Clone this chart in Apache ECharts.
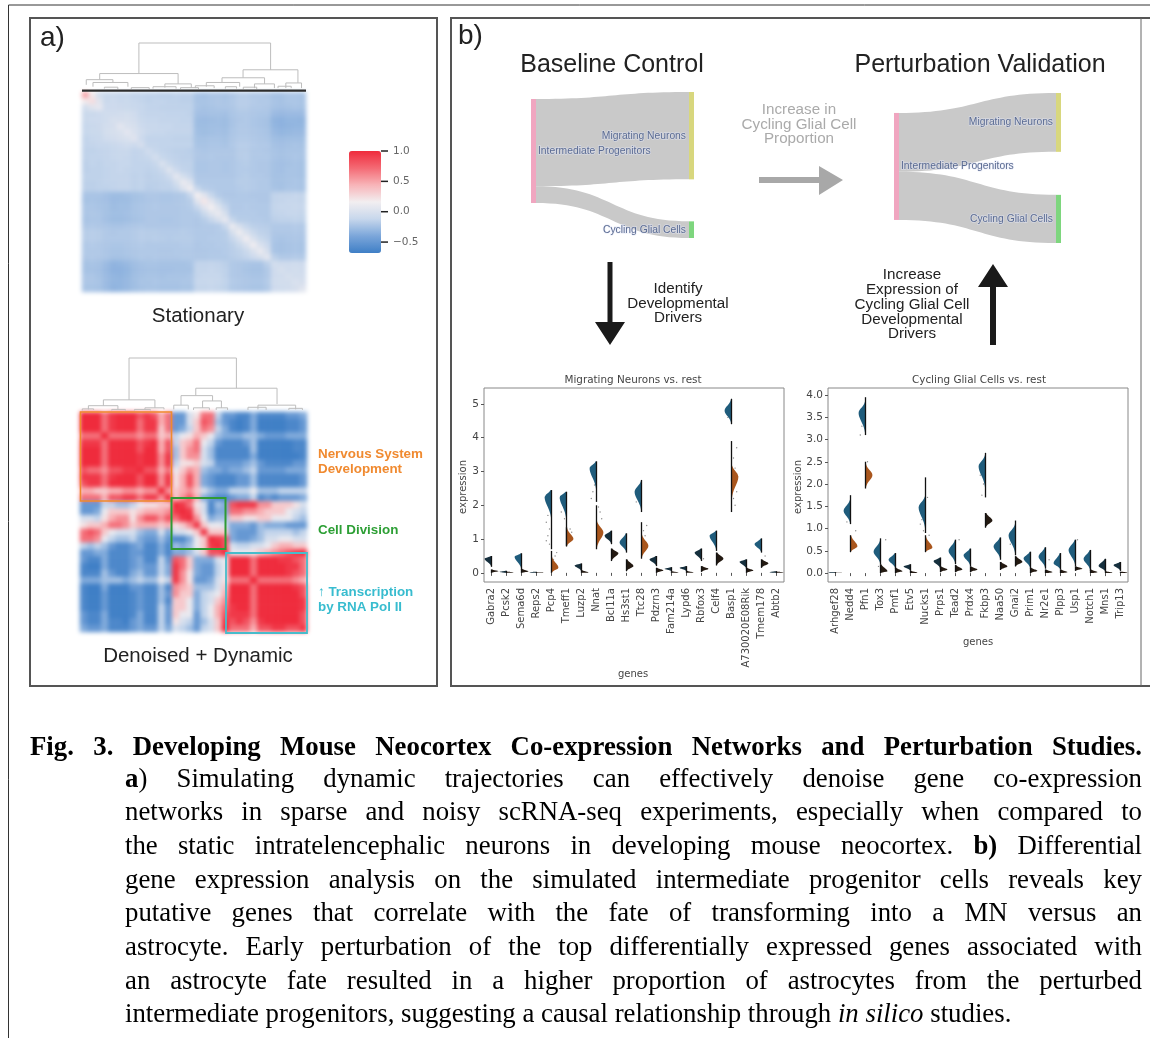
<!DOCTYPE html>
<html>
<head>
<meta charset="utf-8">
<script src="https://cdn.jsdelivr.net/npm/echarts@6/dist/echarts.min.js"></script>
<style>
html,body{margin:0;padding:0;background:#fff;overflow:hidden}
#heat{position:absolute;left:0;top:0;width:1150px;height:1038px;filter:blur(2.2px)}
#chart{position:absolute;left:0;top:0;width:1150px;height:1038px;filter:blur(0.6px)}
.cap{position:absolute;white-space:nowrap;font-family:"Liberation Serif",serif;color:#000;text-align:justify;text-align-last:justify;line-height:34px;height:34px}
.body{left:125px;width:1017px;font-size:26.8px}
.head{left:30px;width:1112px;font-size:26.8px;font-weight:bold}
</style>
</head>
<body>
<div id="heat"></div>
<div id="chart"></div>
<div class="cap head" style="top:729px">Fig. 3. Developing Mouse Neocortex Co-expression Networks and Perturbation Studies.</div>
<div class="cap body" style="top:761px"><b>a</b>) Simulating dynamic trajectories can effectively denoise gene co-expression</div>
<div class="cap body" style="top:794px">networks in sparse and noisy scRNA-seq experiments, especially when compared to</div>
<div class="cap body" style="top:828px">the static intratelencephalic neurons in developing mouse neocortex. <b>b)</b> Differential</div>
<div class="cap body" style="top:862px">gene expression analysis on the simulated intermediate progenitor cells reveals key</div>
<div class="cap body" style="top:895px">putative genes that correlate with the fate of transforming into a MN versus an</div>
<div class="cap body" style="top:929px">astrocyte. Early perturbation of the top differentially expressed genes associated with</div>
<div class="cap body" style="top:963px">an astrocyte fate resulted in a higher proportion of astrocytes from the perturbed</div>
<div class="cap body" style="top:996px;text-align-last:left;width:auto">intermediate progenitors, suggesting a causal relationship through <i>in silico</i> studies.</div>
<script>
// ---------- Stationary co-expression (upper triangle, hundredths) ----------
const statUpper = [
[50,18,-4,-10,-10,-12,-12,-14,-14,-15,-15,-16,-16,-15,-16,-16,-23,-24,-22,-22,-23,-21,-18,-18,-20,-20,-21,-24,-24,-22,-22,-23],
[24,4,-10,-8,-11,-10,-12,-13,-15,-14,-14,-15,-15,-16,-16,-23,-23,-22,-21,-22,-20,-17,-17,-19,-20,-20,-23,-24,-22,-22,-23],
[8,-8,-8,-9,-10,-11,-12,-14,-14,-15,-15,-15,-15,-15,-23,-24,-23,-22,-22,-21,-18,-18,-20,-20,-21,-24,-25,-24,-23,-24],
[-6,-6,-5,-4,-6,-12,-13,-13,-13,-14,-14,-14,-15,-25,-25,-24,-24,-25,-22,-20,-20,-21,-22,-22,-28,-29,-28,-28,-28],
[-2,-3,-2,-5,-10,-12,-12,-13,-13,-13,-14,-14,-27,-28,-27,-26,-27,-23,-21,-20,-22,-23,-24,-32,-33,-31,-31,-32],
[6,0,-2,-8,-11,-11,-12,-12,-13,-13,-13,-27,-27,-26,-26,-27,-23,-20,-20,-22,-23,-24,-31,-33,-32,-31,-31],
[6,0,-6,-11,-12,-12,-13,-13,-13,-13,-26,-27,-26,-25,-26,-22,-20,-20,-21,-22,-23,-29,-31,-30,-29,-29],
[4,-8,-14,-14,-14,-14,-15,-15,-15,-24,-24,-23,-23,-24,-21,-19,-19,-20,-21,-22,-26,-27,-26,-26,-26],
[-3,-13,-13,-14,-14,-14,-14,-14,-23,-23,-22,-22,-23,-20,-17,-17,-19,-20,-20,-24,-25,-24,-23,-24],
[-6,-12,-14,-15,-16,-16,-17,-21,-22,-21,-21,-21,-21,-18,-18,-20,-20,-21,-23,-24,-23,-23,-23],
[-4,-12,-14,-15,-16,-16,-21,-21,-20,-21,-21,-21,-18,-17,-20,-20,-20,-23,-24,-23,-22,-23],
[0,-10,-14,-15,-15,-22,-22,-21,-21,-22,-21,-19,-18,-20,-21,-21,-24,-25,-24,-23,-24],
[2,-8,-14,-15,-22,-22,-21,-21,-22,-21,-19,-19,-20,-21,-21,-24,-25,-23,-23,-24],
[6,-4,-12,-21,-21,-21,-21,-21,-21,-19,-18,-20,-20,-21,-24,-24,-23,-23,-24],
[10,2,-20,-20,-20,-20,-20,-20,-18,-18,-19,-20,-20,-24,-24,-23,-22,-23],
[14,-12,-18,-19,-20,-20,-20,-19,-18,-19,-20,-20,-23,-24,-22,-22,-23],
[16,4,-12,-19,-21,-21,-20,-20,-21,-21,-21,-14,-13,-13,-12,-13],
[20,4,-10,-18,-20,-20,-20,-20,-21,-21,-14,-13,-12,-12,-13],
[16,2,-12,-20,-20,-19,-20,-20,-20,-13,-12,-12,-11,-12],
[10,-2,-19,-19,-19,-19,-20,-20,-14,-13,-12,-12,-13],
[8,-12,-18,-18,-19,-19,-20,-16,-15,-15,-14,-15],
[10,-2,-12,-16,-17,-18,-20,-20,-20,-19,-20],
[12,0,-10,-15,-16,-21,-21,-21,-20,-21],
[14,0,-10,-14,-22,-23,-22,-21,-22],
[14,0,-8,-23,-24,-23,-22,-23],
[10,-2,-23,-24,-23,-22,-23],
[6,-16,-20,-20,-19,-20],
[-4,-7,-7,-6,-7],
[-2,-6,-5,-6],
[-2,-5,-5],
[0,-3],
[4]
];
// ---------- Denoised + dynamic co-expression (tenths, three gene modules) ----------
const dynAA = [
[10,9,9,6,8,9,9,9,7,8,7,4,6],
[10,9,6,8,9,9,9,6,8,8,4,6],
[10,6,8,9,9,9,6,8,8,3,6],
[10,6,6,6,6,5,6,6,3,4],
[10,10,10,9,7,8,9,4,7],
[10,10,10,7,9,9,4,7],
[10,10,8,9,10,5,8],
[10,8,10,10,5,8],
[10,7,7,4,6],
[10,10,5,8],
[10,5,8],
[10,5],
[10]
];
const dynAB = [
[-4,-4,0,2,6,6,-1,-4],
[-4,-4,0,3,7,6,-2,-4],
[-4,-3,-1,3,6,5,-1,-3],
[-1,1,2,4,3,1,-2,-3],
[-1,3,4,6,1,-1,-4,-5],
[-2,3,5,6,0,-2,-5,-5],
[-2,3,5,5,0,-2,-5,-5],
[-1,2,2,3,0,-1,-4,-4],
[1,3,5,4,-2,-3,-3,-4],
[2,4,7,4,-3,-4,-5,-5],
[2,4,7,4,-3,-4,-5,-5],
[3,4,5,3,0,-2,-3,-3],
[3,5,7,4,-3,-4,-5,-5]
];
const dynAC = [
[-4,-5,-5,-3,-5,-5,-5,-5,-4,-4,-3],
[-5,-6,-5,-3,-6,-6,-6,-6,-5,-5,-4],
[-5,-6,-5,-3,-6,-6,-6,-6,-5,-5,-4],
[-3,-3,-2,-2,-3,-4,-4,-4,-3,-3,-3],
[-5,-5,-4,-2,-6,-6,-6,-6,-6,-5,-5],
[-5,-5,-5,-2,-6,-6,-6,-6,-6,-5,-5],
[-5,-5,-5,-3,-6,-6,-6,-6,-6,-6,-5],
[-4,-4,-3,-2,-4,-5,-5,-5,-5,-4,-4],
[-3,-3,-2,-1,-4,-4,-4,-4,-3,-3,-3],
[-5,-4,-4,-2,-5,-5,-5,-5,-5,-5,-4],
[-5,-4,-4,-2,-5,-5,-5,-5,-5,-5,-4],
[-1,-1,-1,1,-2,-2,-2,-1,-1,-1,-1],
[-4,-3,-3,-1,-5,-4,-5,-4,-4,-4,-3]
];
const dynBB = [
[9,8,6,2,0,-5,-2,-3],
[9,8,3,0,-5,-3,-3],
[9,5,1,-3,-2,-2],
[8,3,1,1,0],
[8,3,3,3],
[10,8,7],
[9,7],
[9]
];
const dynBC = [
[7,8,8,8,5,5,3,3,3,2,0],
[6,6,5,5,4,3,3,3,1,0,-1],
[3,3,2,2,3,3,1,1,1,-1,-2],
[-3,-3,-3,-4,-2,-3,-3,-3,-4,-4,-4],
[-3,-4,-4,-4,-2,-1,-1,-1,-1,-2,-1],
[-3,-4,-4,-3,-2,0,0,1,1,0,0],
[0,-1,-1,0,0,1,3,4,4,3,3],
[1,1,1,2,3,4,5,6,7,8,9]
];
const dynCC = [
[10,10,9,6,9,9,9,8,8,7,6],
[10,9,6,9,9,9,9,8,8,6],
[10,6,9,9,9,9,8,7,6],
[10,6,6,6,6,6,5,4],
[10,10,10,9,9,8,7],
[10,10,10,9,9,7],
[10,10,9,9,8],
[10,9,9,8],
[10,9,7],
[9,7],
[8]
];
// ---------- Dendrograms: [xLeft, xRight, leftLegHeight, rightLegHeight, topHeight] ----------
const dendroStationary = [
[25.4,84.2,35,43,100],[7.9,42.9,22,13,35],[71.9,96.4,26,15,43],[62.5,81.5,16,13,26],
[1.9,13.8,11,16,22],[4.9,20.5,7,7,16],[37,48.8,5,5,13],[31.7,42,3,3,7],[50.6,59,4,4,9],
[55.5,70.4,7,7,16],[77,85.9,4,4,13],[91,98,4,4,15],[87.5,93.4,4,4,8],[22,30,2,2,5],
[10,16,3,2,6],[64,69,3,3,7],[72,78,2,2,6],[44,52,2,2,5]
];
const dendroDynamic = [
[21.6,68.9,21,43,100],[10.3,33,10,6,21],[51,86.8,29,13,43],[44.5,58.4,11,19,29],
[54,62.3,6,6,19],[41.3,47.7,3,3,11],[78.4,95,3,3,11],[3.7,16.7,3,3,10],[28.6,37,3,3,6],
[50,57,2,2,6],[60,65,2,2,6],[74,82,2,2,7],[92,98,2,2,5],[1,6,1,2,4],[14,20,1,1,3],[24,31,1,1,3]
];
// ---------- Sankey flows ----------
const sankeyNodes = ['Intermediate Progenitors','Migrating Neurons','Cycling Glial Cells'];
const baselineFlows = [84,16];
const perturbedFlows = [55,45];
// ---------- Violin plots: each row is [peak, low, high] ----------
const genesMN = ['Gabra2','Pcsk2','Sema6d','Reps2','Pcp4','Tmeff1','Luzp2','Nnat','Bcl11a','Hs3st1','Ttc28','Pdzrn3','Fam214a','Lypd6','Rbfox3','Celf4','Basp1','A730020E08Rik','Tmem178','Abtb2'];
const mnGroup = [[.42,.18,.5],[.03,0,.06],[.48,.1,.58],[.01,0,.03],[2.25,.7,2.45],[2.25,.8,2.4],[.22,.05,.28],[3.1,2.1,3.3],[1.1,.85,1.25],[.9,.6,1.17],[2.4,1.8,2.75],[.4,.2,.5],[.12,.05,.17],[.15,.05,.2],[.6,.35,.72],[1.1,.65,1.25],[4.8,4.4,5.15],[.33,.12,.4],[.85,.6,1.02],[.02,0,.05]];
const mnRest = [[.05,0,.1],[.01,0,.03],[.04,0,.12],[.01,0,.02],[.15,0,.65],[1,.78,1.35],[.01,0,.08],[1.2,.7,2],[.58,.35,.72],[.2,.05,.4],[.8,.42,1.5],[.07,0,.15],[.01,0,.05],[.01,0,.06],[.12,.03,.2],[.42,.22,.6],[2.85,1.8,3.9],[.07,0,.15],[.28,.15,.4],[.01,0,.03]];
const mnDots = [[4,1.9,0],[4,1.7,0],[4,1.5,0],[4,1.3,0],[4,1.1,0],[4,.95,0],[4,.85,0],[4,.5,1],[4,.6,1],[4,.4,1],[5,2,0],[5,1.8,0],[5,1.6,0],[5,1.3,1],[5,1.2,1],[7,2.6,0],[7,2.4,0],[7,2.2,0],[7,1.95,1],[7,1.8,1],[7,1.6,1],[16,4.95,0],[16,4.6,0],[16,3.7,1],[16,3.4,1],[16,3.1,1],[16,2.4,1],[16,2.2,1],[16,2,1],[10,1.4,1],[10,1.25,1],[10,1.1,1],[10,2.1,0],[14,.42,1],[18,.5,1]];
const genesCG = ['Arhgef28','Nedd4','Pfn1','Tox3','Pmf1','Etv5','Nucks1','Prps1','Tead2','Prdx4','Fkbp3','Naa50','Gnai2','Prim1','Nr2e1','Plpp3','Usp1','Notch1','Mns1','Trip13'];
const cgGroup = [[.01,0,.02],[1.4,1.1,1.75],[3.6,3.1,3.95],[.48,.2,.78],[.3,.1,.45],[.15,.05,.2],[1.48,.9,2.15],[.27,.1,.35],[.5,.2,.75],[.4,.15,.55],[2.4,1.7,2.7],[.6,.3,.8],[.85,.4,1.18],[.33,.1,.48],[.37,.1,.58],[.22,.08,.45],[.52,.15,.75],[.32,.05,.52],[.16,.03,.32],[.18,.05,.25]];
const cgRest = [[.01,0,.01],[.6,.47,.85],[2.2,1.9,2.5],[.04,0,.2],[.04,0,.12],[.01,0,.05],[.57,.47,.85],[.08,.02,.15],[.08,.02,.18],[.08,.02,.15],[1.18,1.02,1.35],[.15,.07,.25],[.25,.15,.38],[.05,0,.12],[.02,0,.08],[.02,0,.08],[.1,.05,.15],[.02,0,.08],[.01,0,.04],[.01,0,.03]];
const cgDots = [[2,3.4,0],[2,3.3,0],[2,3.1,0],[2,2.5,1],[1,1.15,0],[1,.95,1],[6,1.7,1],[6,1.2,0],[6,1.1,0],[6,.95,0],[6,.85,1],[10,2.2,0],[10,2,0],[10,1.75,0],[3,.75,1],[3,.15,0],[8,.75,1],[12,.65,0],[16,.75,1],[14,.3,1]];
const tickColorbar = [-0.5,0,0.5,1];
const tickMN = [0,1,2,3,4,5];
const tickCG = [0,0.5,1,1.5,2,2.5,3,3.5,4];
const colorStops = ['#3f7fc6','#7ba6da','#c7d7ec','#f2eef0','#f8b4b8','#f46a74','#ef2b3c'];

function mirror(rows){
  const n=rows.length, m=[];
  for(let i=0;i<n;i++) m.push(new Array(n).fill(0));
  rows.forEach((r,i)=>r.forEach((v,k)=>{m[i][i+k]=v;m[i+k][i]=v;}));
  return m;
}
function cells(m,scale){
  const out=[];
  m.forEach((r,y)=>r.forEach((v,x)=>out.push([x,y,v/scale])));
  return out;
}
const dynUpper=[];
for(let i=0;i<13;i++) dynUpper.push([...dynAA[i],...dynAB[i],...dynAC[i]]);
for(let i=0;i<8;i++) dynUpper.push([...dynBB[i],...dynBC[i]]);
for(let i=0;i<11;i++) dynUpper.push(dynCC[i]);
const idx32=Array.from({length:32},(_,i)=>String(i));

function renderDendro(p,api){
  const x1=api.value(0),x2=api.value(1),a=api.value(2),b=api.value(3),t=api.value(4);
  return {type:'polyline',shape:{points:[api.coord([x1,a]),api.coord([x1,t]),api.coord([x2,t]),api.coord([x2,b])]},
    style:{stroke:'#bdbdbd',lineWidth:1,fill:null}};
}
function renderViolin(p,api){
  const g=api.value(0),peak=api.value(1),low=api.value(2),high=api.value(3),side=api.value(4);
  const band=api.size([1,0])[0],w=band*0.46;
  const pk=api.coord([g,peak]),a=api.coord([g,low]),b=api.coord([g,high]);
  const c=pk[0],yPk=pk[1],yLow=a[1],yHigh=b[1];
  const spanPx=yLow-yHigh;
  const sLow=Math.max(Math.min((yLow-yPk)/1.8,13),0.8),sHigh=Math.max(Math.min((yPk-yHigh)/1.5,7),0.8);
  const pts=[];
  const N=26;
  for(let i=0;i<=N;i++){
    const y=yLow+(yHigh-yLow)*i/N;
    const s=y>yPk?sLow:sHigh;
    const d=w*Math.exp(-Math.pow((y-yPk)/s,2));
    pts.push([c+(side?d:-d),y]);
  }
  const fill=side?(spanPx>16?'#a9561d':'#241a12'):(spanPx>14?'#1f5c7c':'#16303e');
  return {type:'group',children:[
    {type:'polygon',shape:{points:[[c,yLow],...pts,[c,yHigh]]},style:{fill:fill}},
    {type:'line',shape:{x1:c,y1:yLow,x2:c,y2:yHigh},style:{stroke:'#111',lineWidth:1.3}}
  ]};
}
function renderDot(p,api){
  const pos=api.coord([api.value(0),api.value(1)]);
  const dir=api.value(2)?1:-1;
  const off=dir*(2+p.dataIndex%3*1.6);
  return {type:'circle',shape:{cx:pos[0]+off,cy:pos[1],r:.7},style:{fill:'#8a8a8a'}};
}
function renderBarTick(p,api){
  const pos=api.coord([1,api.value(0)]);
  return {type:'line',shape:{x1:pos[0],y1:pos[1],x2:pos[0]+7,y2:pos[1]},style:{stroke:'#222',lineWidth:1.5}};
}
function violinRows(list,side){return list.map((r,i)=>[i,r[0],r[1],r[2],side]);}

const FONT='"Liberation Sans",Arial,sans-serif';
const txt=(s,x,y,size,fill,align,weight)=>({type:'text',z:50,style:{text:s,x:x,y:y,fill:fill||'#222',align:align||'center',verticalAlign:'middle',font:(weight||'normal')+' '+size+'px '+FONT}});
const box=(x,y,w,h,stroke,lw)=>({type:'rect',z:40,shape:{x:x,y:y,width:w,height:h},style:{fill:null,stroke:stroke,lineWidth:lw}});
const poly=(pts,fill)=>({type:'polygon',z:40,shape:{points:pts},style:{fill:fill}});

const graphicEls=[
  {type:'line',z:40,shape:{x1:8.5,y1:5,x2:1150,y2:5},style:{stroke:'#333',lineWidth:1}},
  {type:'line',z:40,shape:{x1:8.5,y1:5,x2:8.5,y2:1038},style:{stroke:'#333',lineWidth:1}},
  box(30,18,407,668,'#555',2),
  {type:'polyline',z:40,shape:{points:[[1150,18],[451,18],[451,686],[1150,686]]},style:{fill:null,stroke:'#555',lineWidth:2}},
  {type:'line',z:40,shape:{x1:1141,y1:18,x2:1141,y2:686},style:{stroke:'#666',lineWidth:1}},
  txt('a)',40,38,28,'#222','left'),
  txt('b)',458,36,28,'#222','left'),
  {type:'rect',z:40,shape:{x:82,y:89.5,width:224,height:2.2},style:{fill:'#2d2d2d'}},
  box(80.5,412,91,89,'#ef8a2e',1.6),
  box(171.5,498,54,51,'#2f9a34',2),
  box(226,553,81,80,'#48bccb',1.8),
  txt('Stationary',198,316,20.5),
  txt('Denoised + Dynamic',198,656,20.5),
  txt('Nervous System',318,454,13.4,'#f08a30','left','bold'),
  txt('Development',318,469,13.4,'#f08a30','left','bold'),
  txt('Cell Division',318,530,13.4,'#2d9f35','left','bold'),
  txt('↑ Transcription',318,592,13.4,'#38bccf','left','bold'),
  txt('by RNA Pol II',318,607,13.4,'#38bccf','left','bold'),
  txt('Baseline Control',612,65,25),
  txt('Perturbation Validation',980,65,25),
  txt('Increase in',799,110,15.2,'#aaaaaa'),
  txt('Cycling Glial Cell',799,125,15.2,'#aaaaaa'),
  txt('Proportion',799,139,15.2,'#aaaaaa'),
  txt('Identify',678,289,15.2),
  txt('Developmental',678,304,15.2),
  txt('Drivers',678,318,15.2),
  txt('Increase',912,275,15.2),
  txt('Expression of',912,290,15.2),
  txt('Cycling Glial Cell',912,305,15.2),
  txt('Developmental',912,320,15.2),
  txt('Drivers',912,334,15.2),
  poly([[759,177],[819,177],[819,166],[843,180],[819,195],[819,183],[759,183]],'#a8a8a8'),
  poly([[607.5,262],[612.5,262],[612.5,322],[625,322],[610,345],[595,322],[607.5,322]],'#1a1a1a'),
  poly([[990,345],[996,345],[996,287],[1008,287],[993,264],[978,287],[990,287]],'#1a1a1a'),
  {type:'text',z:50,x:633,y:380,style:{text:'Migrating Neurons vs. rest',align:'center',verticalAlign:'middle',fill:'#444',font:'10.4px "DejaVu Sans"'}},
  {type:'text',z:50,x:979,y:380,style:{text:'Cycling Glial Cells vs. rest',align:'center',verticalAlign:'middle',fill:'#444',font:'10.4px "DejaVu Sans"'}},
  {type:'text',z:50,rotation:Math.PI/2,x:463,y:487,style:{text:'expression',align:'center',verticalAlign:'middle',fill:'#444',font:'10px "DejaVu Sans"'}},
  {type:'text',z:50,rotation:Math.PI/2,x:798,y:487,style:{text:'expression',align:'center',verticalAlign:'middle',fill:'#444',font:'10px "DejaVu Sans"'}},
  {type:'text',z:50,x:633,y:674,style:{text:'genes',align:'center',verticalAlign:'middle',fill:'#444',font:'10px "DejaVu Sans"'}},
  {type:'text',z:50,x:978,y:642,style:{text:'genes',align:'center',verticalAlign:'middle',fill:'#444',font:'10px "DejaVu Sans"'}}
];

const hiddenCat=(gridIndex,inv)=>({type:'category',gridIndex:gridIndex,data:idx32,show:false,inverse:!!inv});
const hiddenVal=(gridIndex)=>({type:'value',gridIndex:gridIndex,min:0,max:100,show:false});
const geneAxis=(gridIndex,names)=>({type:'category',gridIndex:gridIndex,data:names,
  axisLine:{show:false},axisTick:{show:true,alignWithLabel:true,length:3,lineStyle:{color:'#555'}},
  axisLabel:{rotate:90,interval:0,fontSize:10,color:'#444',fontFamily:'DejaVu Sans',margin:6}});
const exprAxis=(gridIndex,min,max,ticks,dec)=>({type:'value',gridIndex:gridIndex,min:min,max:max,splitLine:{show:false},
  axisLine:{show:false},axisTick:{show:true,length:3,customValues:ticks,lineStyle:{color:'#555'}},
  axisLabel:{customValues:ticks,fontSize:10.5,color:'#444',fontFamily:'DejaVu Sans',margin:5,formatter:v=>v.toFixed(dec)}});
const plotGrid=(left)=>({left:left,top:388,width:300,height:194,show:true,borderColor:'#888',borderWidth:1,backgroundColor:'transparent'});
const sankeySeries=(flows,left,top,w,h,gap,localY)=>({
  type:'sankey',left:left,top:top,width:w,height:h,nodeWidth:5,nodeGap:gap,layoutIterations:0,draggable:false,
  silent:true,animation:false,emphasis:{disabled:true},
  label:{color:'#5a6b92',fontSize:10.3,fontFamily:FONT,textBorderColor:'rgba(225,230,245,.55)',textBorderWidth:1.5},
  lineStyle:{color:'#c9c9c9',opacity:1,curveness:.5},
  data:[
    {name:sankeyNodes[0],localY:localY,itemStyle:{color:'#f0a6c0',borderWidth:0},label:{position:'right',distance:2}},
    {name:sankeyNodes[1],itemStyle:{color:'#d8d77e',borderWidth:0},label:{position:'left',distance:3}},
    {name:sankeyNodes[2],itemStyle:{color:'#7ed67e',borderWidth:0},label:{position:'left',distance:3}}
  ],
  links:[
    {source:sankeyNodes[0],target:sankeyNodes[1],value:flows[0]},
    {source:sankeyNodes[0],target:sankeyNodes[2],value:flows[1]}
  ]
});

// Heatmaps live in their own softened layer, everything else on top of it.
const heat=echarts.init(document.getElementById('heat'),null,{renderer:'canvas',width:1150,height:1038});
heat.setOption({
  animation:false,
  backgroundColor:'#fff',
  grid:[{left:82,top:92,width:224,height:200},{left:80,top:412,width:227,height:220}],
  xAxis:[hiddenCat(0),hiddenCat(1)],
  yAxis:[hiddenCat(0,true),hiddenCat(1,true)],
  visualMap:[
    {type:'continuous',seriesIndex:0,min:-0.68,max:1,show:false,inRange:{color:colorStops}},
    {type:'continuous',seriesIndex:1,min:-0.55,max:0.85,show:false,inRange:{color:colorStops}}
  ],
  series:[
    {type:'heatmap',xAxisIndex:0,yAxisIndex:0,data:cells(mirror(statUpper),100),progressive:0,silent:true,emphasis:{disabled:true}},
    {type:'heatmap',xAxisIndex:1,yAxisIndex:1,data:cells(mirror(dynUpper),10),progressive:0,silent:true,emphasis:{disabled:true}}
  ]
});

const chart=echarts.init(document.getElementById('chart'),null,{renderer:'canvas',width:1150,height:1038});
chart.setOption({
  animation:false,
  backgroundColor:'transparent',
  grid:[
    {left:82,top:43,width:224,height:47},
    {left:80,top:358,width:227,height:53},
    plotGrid(484),
    plotGrid(828),
    {left:349,top:151,width:32,height:102}
  ],
  xAxis:[
    {type:'value',gridIndex:0,min:0,max:100,show:false},
    {type:'value',gridIndex:1,min:0,max:100,show:false},
    geneAxis(2,genesMN),geneAxis(3,genesCG),
    {type:'value',gridIndex:4,min:0,max:1,show:false}
  ],
  yAxis:[
    hiddenVal(0),hiddenVal(1),
    exprAxis(2,-0.27,5.47,tickMN,0),
    exprAxis(3,-0.2,4.157,tickCG,1),
    {type:'value',gridIndex:4,position:'right',min:-0.68,max:1,splitLine:{show:false},
     axisLine:{show:false},axisTick:{show:false},
     axisLabel:{customValues:tickColorbar,fontSize:10.5,color:'#666',fontFamily:'DejaVu Sans',margin:12,
       formatter:v=>(v<0?'−':'')+Math.abs(v).toFixed(1)}}
  ],
  visualMap:[{type:'continuous',seriesIndex:[],min:-0.68,max:1,left:349,top:151,itemWidth:32,itemHeight:102,padding:0,
    calculable:false,show:true,hoverLink:false,inRange:{color:colorStops}}],
  graphic:{elements:graphicEls},
  series:[
    {type:'custom',xAxisIndex:0,yAxisIndex:0,data:dendroStationary,renderItem:renderDendro,encode:{x:[0,1],y:[2,3,4]},silent:true},
    {type:'custom',xAxisIndex:1,yAxisIndex:1,data:dendroDynamic,renderItem:renderDendro,encode:{x:[0,1],y:[2,3,4]},silent:true},
    sankeySeries(baselineFlows,531,92,163,146,42,0.048),
    sankeySeries(perturbedFlows,894,93,167,150,43,0.133),
    {type:'custom',xAxisIndex:2,yAxisIndex:2,data:mnDots,renderItem:renderDot,encode:{x:0,y:1},silent:true},
    {type:'custom',xAxisIndex:3,yAxisIndex:3,data:cgDots,renderItem:renderDot,encode:{x:0,y:1},silent:true},
    {type:'custom',xAxisIndex:2,yAxisIndex:2,data:violinRows(mnGroup,0),renderItem:renderViolin,encode:{x:0,y:1},silent:true},
    {type:'custom',xAxisIndex:2,yAxisIndex:2,data:violinRows(mnRest,1),renderItem:renderViolin,encode:{x:0,y:1},silent:true},
    {type:'custom',xAxisIndex:3,yAxisIndex:3,data:violinRows(cgGroup,0),renderItem:renderViolin,encode:{x:0,y:1},silent:true},
    {type:'custom',xAxisIndex:3,yAxisIndex:3,data:violinRows(cgRest,1),renderItem:renderViolin,encode:{x:0,y:1},silent:true},
    {type:'custom',xAxisIndex:4,yAxisIndex:4,data:tickColorbar.map(v=>[v]),renderItem:renderBarTick,encode:{y:0},z:20,silent:true}
  ]
});
</script>
</body>
</html>
